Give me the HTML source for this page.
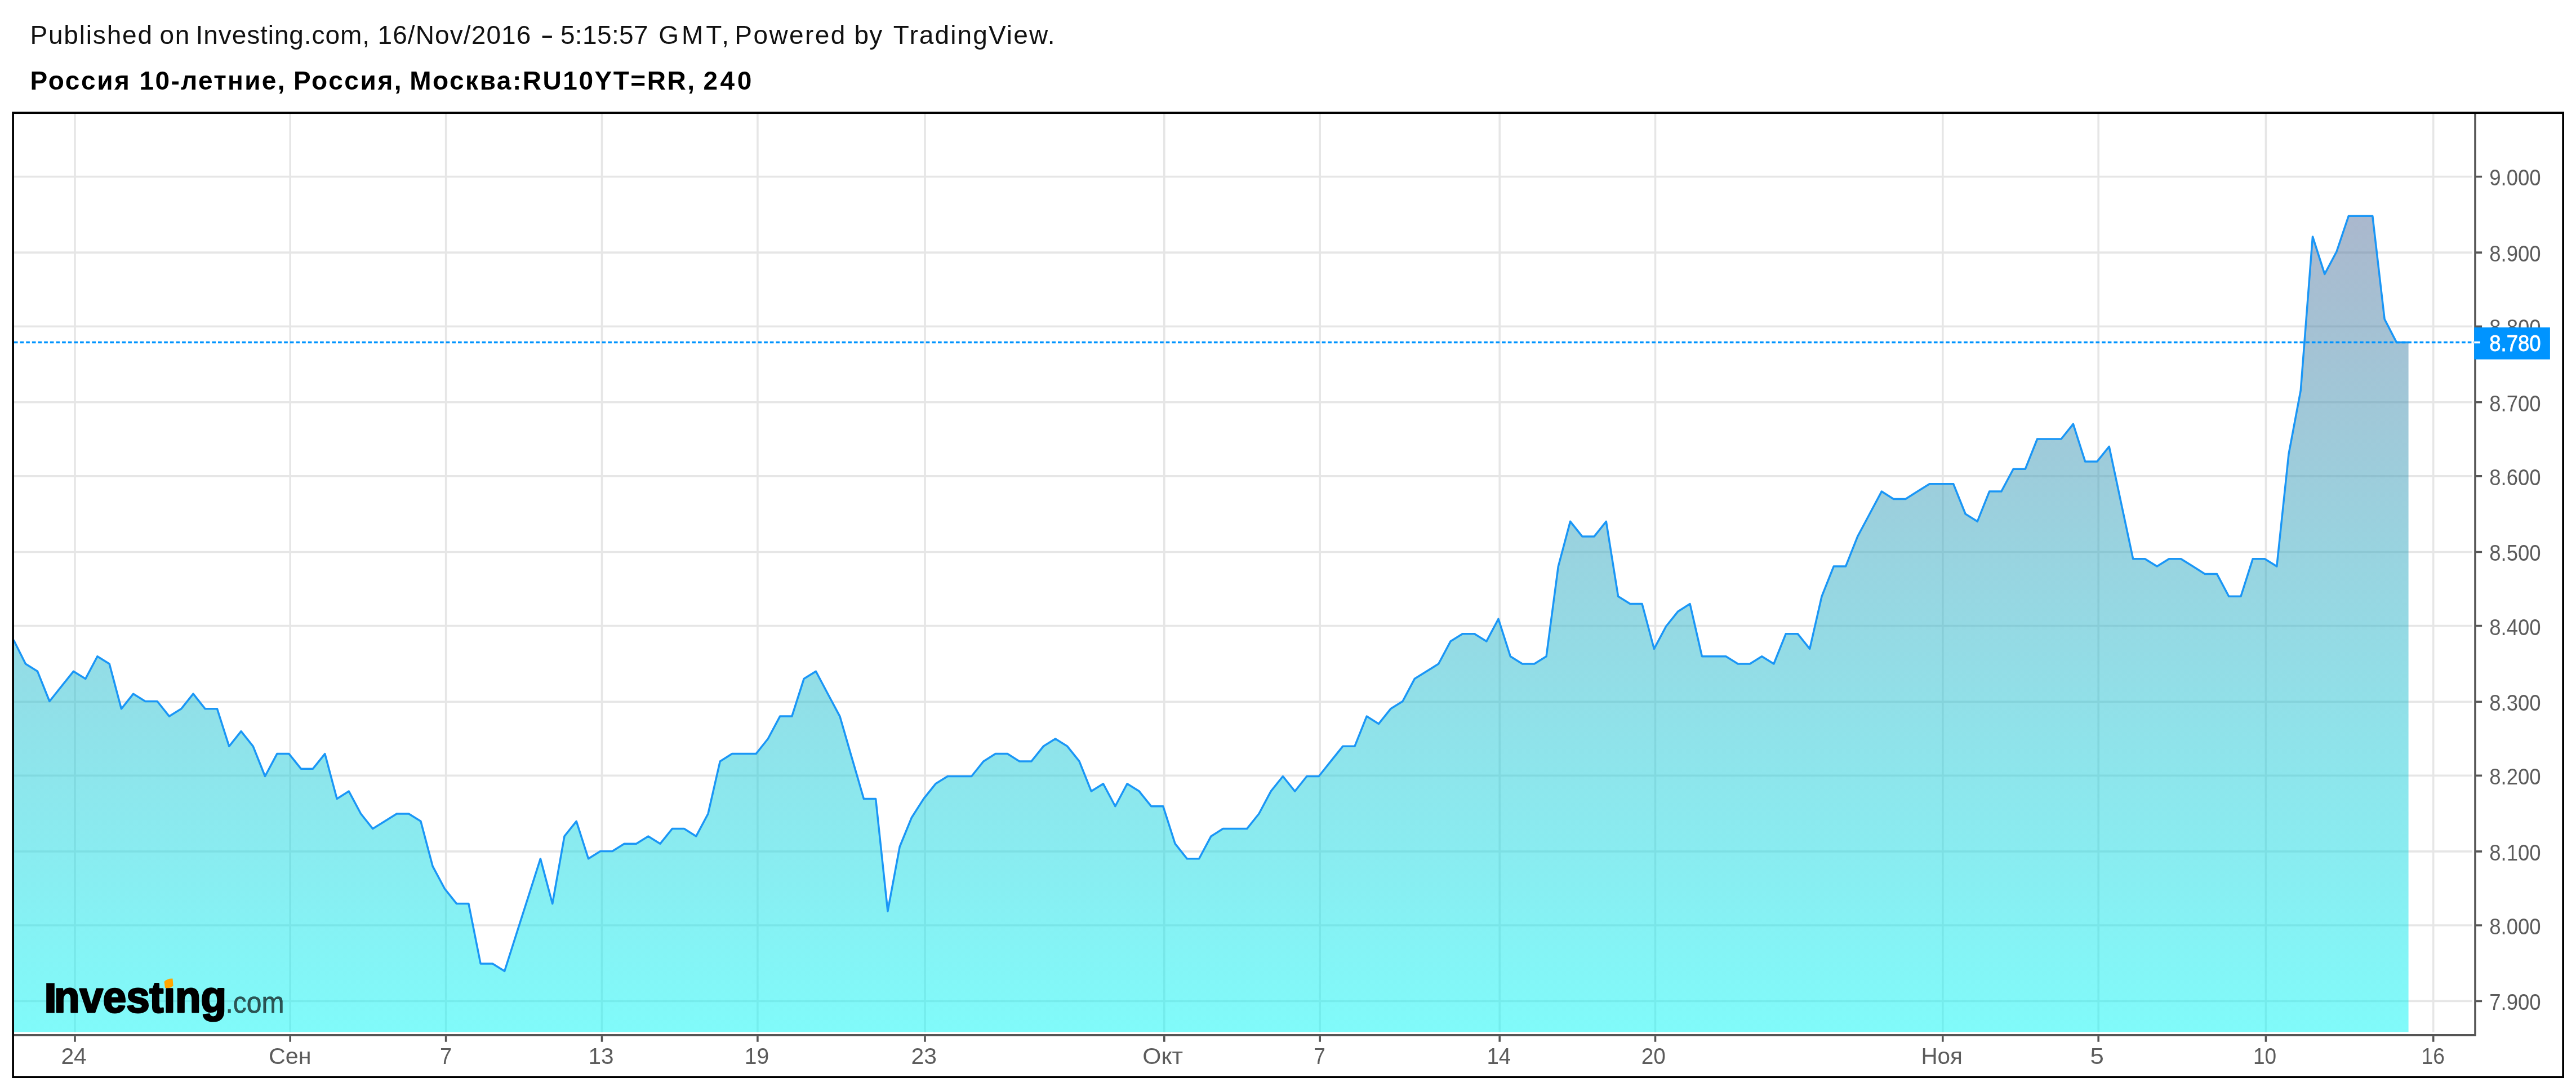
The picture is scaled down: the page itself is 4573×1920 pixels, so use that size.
<!DOCTYPE html>
<html lang="ru"><head><meta charset="utf-8"><title>RU10YT=RR</title>
<style>
html,body{margin:0;padding:0;background:#fff;}
body{width:4573px;height:1920px;overflow:hidden;}
svg{display:block;font-family:"Liberation Sans",sans-serif;filter:blur(0.6px);}
</style></head><body>
<svg width="4573" height="1920" viewBox="0 0 4573 1920">
<defs><linearGradient id="g" gradientUnits="userSpaceOnUse" x1="0" y1="202.0" x2="0" y2="1831.2"><stop offset="0" stop-color="#606090" stop-opacity="0.5"/><stop offset="1" stop-color="#01F6F5" stop-opacity="0.5"/></linearGradient></defs>
<rect width="4573" height="1920" fill="#fff"/>
<text x="53.42" y="77.8" font-size="46.0" fill="#111" textLength="216.65" lengthAdjust="spacing">Published</text>
<text x="283.50" y="77.8" font-size="46.0" fill="#111" textLength="52.76" lengthAdjust="spacing">on</text>
<text x="347.60" y="77.8" font-size="46.0" fill="#111" textLength="308.34" lengthAdjust="spacing">Investing.com,</text>
<text x="670.49" y="77.8" font-size="46.0" fill="#111" textLength="271.86" lengthAdjust="spacing">16/Nov/2016</text>
<text x="959.42" y="77.8" font-size="46.0" fill="#111" textLength="23.54" lengthAdjust="spacingAndGlyphs">-</text>
<text x="994.91" y="77.8" font-size="46.0" fill="#111" textLength="155.69" lengthAdjust="spacing">5:15:57</text>
<text x="1169.13" y="77.8" font-size="46.0" fill="#111" textLength="124.99" lengthAdjust="spacing">GMT,</text>
<text x="1304.32" y="77.8" font-size="46.0" fill="#111" textLength="196.03" lengthAdjust="spacing">Powered</text>
<text x="1516.58" y="77.8" font-size="46.0" fill="#111" textLength="49.59" lengthAdjust="spacing">by</text>
<text x="1585.87" y="77.8" font-size="46.0" fill="#111" textLength="286.60" lengthAdjust="spacing">TradingView.</text>
<text x="53.55" y="158.9" font-size="46.0" font-weight="bold" fill="#000" textLength="176.37" lengthAdjust="spacing">Россия</text>
<text x="247.59" y="158.9" font-size="46.0" font-weight="bold" fill="#000" textLength="257.86" lengthAdjust="spacing">10-летние,</text>
<text x="520.94" y="158.9" font-size="46.0" font-weight="bold" fill="#000" textLength="191.65" lengthAdjust="spacing">Россия,</text>
<text x="727.16" y="158.9" font-size="46.0" font-weight="bold" fill="#000" textLength="505.84" lengthAdjust="spacing">Москва:RU10YT=RR,</text>
<text x="1248.52" y="158.9" font-size="46.0" font-weight="bold" fill="#000" textLength="85.74" lengthAdjust="spacing">240</text>
<path d="M133.00 202.0V1831.5M515.20 202.0V1831.5M791.60 202.0V1831.5M1068.50 202.0V1831.5M1344.90 202.0V1831.5M1642.00 202.0V1831.5M2066.80 202.0V1831.5M2343.20 202.0V1831.5M2662.20 202.0V1831.5M2938.50 202.0V1831.5M3448.80 202.0V1831.5M3725.20 202.0V1831.5M4022.40 202.0V1831.5M4319.70 202.0V1831.5M24.9 313.51H4388.9M24.9 448.12H4388.9M24.9 579.19H4388.9M24.9 713.80H4388.9M24.9 844.87H4388.9M24.9 979.48H4388.9M24.9 1110.55H4388.9M24.9 1245.17H4388.9M24.9 1376.24H4388.9M24.9 1510.85H4388.9M24.9 1641.92H4388.9M24.9 1776.53H4388.9" stroke="#e6e6e6" stroke-width="3.55" fill="none"/>
<polygon points="24.9,1831.2 24.9,1135.5 24.1,1135.5 45.4,1178.0 66.6,1191.3 87.9,1244.5 109.1,1217.9 130.4,1191.3 151.7,1204.6 172.9,1164.7 194.2,1178.0 215.4,1257.8 236.7,1231.2 257.9,1244.5 279.2,1244.5 300.5,1271.1 321.7,1257.8 343.0,1231.2 364.2,1257.8 385.5,1257.8 406.7,1324.3 428.0,1297.7 449.3,1324.3 470.5,1377.5 491.8,1337.6 513.0,1337.6 534.3,1364.2 555.5,1364.2 576.8,1337.6 598.1,1417.4 619.3,1404.1 640.6,1444.0 661.8,1470.6 683.1,1457.3 704.3,1444.0 725.6,1444.0 746.9,1457.3 768.1,1537.1 789.4,1577.0 810.6,1603.6 831.9,1603.6 853.1,1710.0 874.4,1710.0 895.7,1723.3 916.9,1656.8 938.2,1590.3 959.4,1523.8 980.7,1603.6 1002.0,1483.9 1023.2,1457.3 1044.5,1523.8 1065.7,1510.5 1087.0,1510.5 1108.2,1497.2 1129.5,1497.2 1150.8,1483.9 1172.0,1497.2 1193.3,1470.6 1214.5,1470.6 1235.8,1483.9 1257.0,1444.0 1278.3,1350.9 1299.6,1337.6 1320.8,1337.6 1342.1,1337.6 1363.3,1311.0 1384.6,1271.1 1405.8,1271.1 1427.1,1204.6 1448.4,1191.3 1469.6,1231.2 1490.9,1271.1 1512.1,1344.3 1533.4,1417.4 1554.6,1417.4 1575.9,1616.9 1597.2,1502.5 1618.4,1450.7 1639.7,1417.4 1660.9,1390.8 1682.2,1377.5 1703.4,1377.5 1724.7,1377.5 1746.0,1350.9 1767.2,1337.6 1788.5,1337.6 1809.7,1350.9 1831.0,1350.9 1852.2,1324.3 1873.5,1311.0 1894.8,1324.3 1916.0,1350.9 1937.3,1404.1 1958.5,1390.8 1979.8,1430.7 2001.0,1390.8 2022.3,1404.1 2043.6,1430.7 2064.8,1430.7 2086.1,1497.2 2107.3,1523.8 2128.6,1523.8 2149.9,1483.9 2171.1,1470.6 2192.4,1470.6 2213.6,1470.6 2234.9,1444.0 2256.1,1404.1 2277.4,1377.5 2298.7,1404.1 2319.9,1377.5 2341.2,1377.5 2362.4,1350.9 2383.7,1324.3 2404.9,1324.3 2426.2,1271.1 2447.5,1284.4 2468.7,1257.8 2490.0,1244.5 2511.2,1204.6 2532.5,1191.3 2553.7,1178.0 2575.0,1138.1 2596.3,1124.8 2617.5,1124.8 2638.8,1138.1 2660.0,1098.2 2681.3,1164.7 2702.5,1178.0 2723.8,1178.0 2745.1,1164.7 2766.3,1005.1 2787.6,925.3 2808.8,951.9 2830.1,951.9 2851.3,925.3 2872.6,1058.3 2893.9,1071.6 2915.1,1071.6 2936.4,1151.4 2957.6,1111.5 2978.9,1084.9 3000.1,1071.6 3021.4,1164.7 3042.7,1164.7 3063.9,1164.7 3085.2,1178.0 3106.4,1178.0 3127.7,1164.7 3148.9,1178.0 3170.2,1124.8 3191.5,1124.8 3212.7,1151.4 3234.0,1058.3 3255.2,1005.1 3276.5,1005.1 3297.7,951.9 3319.0,912.0 3340.3,872.1 3361.5,885.4 3382.8,885.4 3404.0,872.1 3425.3,858.8 3446.6,858.8 3467.8,858.8 3489.1,912.0 3510.3,925.3 3531.6,872.1 3552.8,872.1 3574.1,832.2 3595.4,832.2 3616.6,779.0 3637.9,779.0 3659.1,779.0 3680.4,752.4 3701.6,818.9 3722.9,818.9 3744.2,792.3 3765.4,892.1 3786.7,991.8 3807.9,991.8 3829.2,1005.1 3850.4,991.8 3871.7,991.8 3893.0,1005.1 3914.2,1018.4 3935.5,1018.4 3956.7,1058.3 3978.0,1058.3 3999.2,991.8 4020.5,991.8 4041.8,1005.1 4063.0,805.6 4084.3,692.6 4105.5,419.9 4126.8,486.4 4148.0,446.5 4169.3,383.3 4190.6,383.3 4211.8,383.3 4233.1,566.2 4254.3,607.4 4275.6,607.4 4275.6,1831.2" fill="url(#g)"/>
<polyline points="24.1,1135.5 45.4,1178.0 66.6,1191.3 87.9,1244.5 109.1,1217.9 130.4,1191.3 151.7,1204.6 172.9,1164.7 194.2,1178.0 215.4,1257.8 236.7,1231.2 257.9,1244.5 279.2,1244.5 300.5,1271.1 321.7,1257.8 343.0,1231.2 364.2,1257.8 385.5,1257.8 406.7,1324.3 428.0,1297.7 449.3,1324.3 470.5,1377.5 491.8,1337.6 513.0,1337.6 534.3,1364.2 555.5,1364.2 576.8,1337.6 598.1,1417.4 619.3,1404.1 640.6,1444.0 661.8,1470.6 683.1,1457.3 704.3,1444.0 725.6,1444.0 746.9,1457.3 768.1,1537.1 789.4,1577.0 810.6,1603.6 831.9,1603.6 853.1,1710.0 874.4,1710.0 895.7,1723.3 916.9,1656.8 938.2,1590.3 959.4,1523.8 980.7,1603.6 1002.0,1483.9 1023.2,1457.3 1044.5,1523.8 1065.7,1510.5 1087.0,1510.5 1108.2,1497.2 1129.5,1497.2 1150.8,1483.9 1172.0,1497.2 1193.3,1470.6 1214.5,1470.6 1235.8,1483.9 1257.0,1444.0 1278.3,1350.9 1299.6,1337.6 1320.8,1337.6 1342.1,1337.6 1363.3,1311.0 1384.6,1271.1 1405.8,1271.1 1427.1,1204.6 1448.4,1191.3 1469.6,1231.2 1490.9,1271.1 1512.1,1344.3 1533.4,1417.4 1554.6,1417.4 1575.9,1616.9 1597.2,1502.5 1618.4,1450.7 1639.7,1417.4 1660.9,1390.8 1682.2,1377.5 1703.4,1377.5 1724.7,1377.5 1746.0,1350.9 1767.2,1337.6 1788.5,1337.6 1809.7,1350.9 1831.0,1350.9 1852.2,1324.3 1873.5,1311.0 1894.8,1324.3 1916.0,1350.9 1937.3,1404.1 1958.5,1390.8 1979.8,1430.7 2001.0,1390.8 2022.3,1404.1 2043.6,1430.7 2064.8,1430.7 2086.1,1497.2 2107.3,1523.8 2128.6,1523.8 2149.9,1483.9 2171.1,1470.6 2192.4,1470.6 2213.6,1470.6 2234.9,1444.0 2256.1,1404.1 2277.4,1377.5 2298.7,1404.1 2319.9,1377.5 2341.2,1377.5 2362.4,1350.9 2383.7,1324.3 2404.9,1324.3 2426.2,1271.1 2447.5,1284.4 2468.7,1257.8 2490.0,1244.5 2511.2,1204.6 2532.5,1191.3 2553.7,1178.0 2575.0,1138.1 2596.3,1124.8 2617.5,1124.8 2638.8,1138.1 2660.0,1098.2 2681.3,1164.7 2702.5,1178.0 2723.8,1178.0 2745.1,1164.7 2766.3,1005.1 2787.6,925.3 2808.8,951.9 2830.1,951.9 2851.3,925.3 2872.6,1058.3 2893.9,1071.6 2915.1,1071.6 2936.4,1151.4 2957.6,1111.5 2978.9,1084.9 3000.1,1071.6 3021.4,1164.7 3042.7,1164.7 3063.9,1164.7 3085.2,1178.0 3106.4,1178.0 3127.7,1164.7 3148.9,1178.0 3170.2,1124.8 3191.5,1124.8 3212.7,1151.4 3234.0,1058.3 3255.2,1005.1 3276.5,1005.1 3297.7,951.9 3319.0,912.0 3340.3,872.1 3361.5,885.4 3382.8,885.4 3404.0,872.1 3425.3,858.8 3446.6,858.8 3467.8,858.8 3489.1,912.0 3510.3,925.3 3531.6,872.1 3552.8,872.1 3574.1,832.2 3595.4,832.2 3616.6,779.0 3637.9,779.0 3659.1,779.0 3680.4,752.4 3701.6,818.9 3722.9,818.9 3744.2,792.3 3765.4,892.1 3786.7,991.8 3807.9,991.8 3829.2,1005.1 3850.4,991.8 3871.7,991.8 3893.0,1005.1 3914.2,1018.4 3935.5,1018.4 3956.7,1058.3 3978.0,1058.3 3999.2,991.8 4020.5,991.8 4041.8,1005.1 4063.0,805.6 4084.3,692.6 4105.5,419.9 4126.8,486.4 4148.0,446.5 4169.3,383.3 4190.6,383.3 4211.8,383.3 4233.1,566.2 4254.3,607.4 4275.6,607.4" fill="none" stroke="#1a96f6" stroke-width="3.5" stroke-linejoin="round"/>
<g id="logo">
<text x="78.5" y="1795.5" font-size="73" font-weight="bold" fill="#000" stroke="#000" stroke-width="3" textLength="22" lengthAdjust="spacingAndGlyphs">I</text>
<text x="96" y="1795.5" font-size="77" font-weight="bold" fill="#000" stroke="#000" stroke-width="3" stroke-linejoin="round" textLength="306" lengthAdjust="spacingAndGlyphs">nvestıng</text>
<path d="M293 1753 L291.5 1742 Q297 1736 306.5 1736.5 L307.5 1749 Q303 1754.5 293 1753Z" fill="#FFA500"/>
<text x="400.5" y="1796.8" font-size="54" fill="#000" fill-opacity="0.66" stroke="#000" stroke-opacity="0.66" stroke-width="0.6" textLength="104" lengthAdjust="spacingAndGlyphs">.com</text>
</g>
<path d="M24.9 607.5H4392.2" stroke="#0094FF" stroke-width="3.55" stroke-dasharray="6.7 3.95" fill="none"/>
<path d="M24.9 1836.80H4395.8 M4394.00 202.0V1838.6" stroke="#555" stroke-width="3.55" fill="none"/>
<path d="M133.00 1838.4v10.4M515.20 1838.4v10.4M791.60 1838.4v10.4M1068.50 1838.4v10.4M1344.90 1838.4v10.4M1642.00 1838.4v10.4M2066.80 1838.4v10.4M2343.20 1838.4v10.4M2662.20 1838.4v10.4M2938.50 1838.4v10.4M3448.80 1838.4v10.4M3725.20 1838.4v10.4M4022.40 1838.4v10.4M4319.70 1838.4v10.4M4395.6 313.51h10.5M4395.6 448.12h10.5M4395.6 579.19h10.5M4395.6 713.80h10.5M4395.6 844.87h10.5M4395.6 979.48h10.5M4395.6 1110.55h10.5M4395.6 1245.17h10.5M4395.6 1376.24h10.5M4395.6 1510.85h10.5M4395.6 1641.92h10.5M4395.6 1776.53h10.5" stroke="#555" stroke-width="3.55" fill="none"/>
<text x="108.39" y="1887.9" font-size="41.0" fill="#5c5c5c" textLength="45.46" lengthAdjust="spacingAndGlyphs">24</text>
<text x="476.99" y="1887.9" font-size="41.0" fill="#5c5c5c" textLength="75.61" lengthAdjust="spacingAndGlyphs">Сен</text>
<text x="780.95" y="1887.9" font-size="41.0" fill="#5c5c5c" textLength="21.16" lengthAdjust="spacingAndGlyphs">7</text>
<text x="1044.51" y="1887.9" font-size="41.0" fill="#5c5c5c" textLength="45.08" lengthAdjust="spacingAndGlyphs">13</text>
<text x="1321.84" y="1887.9" font-size="41.0" fill="#5c5c5c" textLength="43.44" lengthAdjust="spacingAndGlyphs">19</text>
<text x="1617.53" y="1887.9" font-size="41.0" fill="#5c5c5c" textLength="45.49" lengthAdjust="spacingAndGlyphs">23</text>
<text x="2028.28" y="1887.9" font-size="41.0" fill="#5c5c5c" textLength="71.80" lengthAdjust="spacingAndGlyphs">Окт</text>
<text x="2332.29" y="1887.9" font-size="41.0" fill="#5c5c5c" textLength="20.65" lengthAdjust="spacingAndGlyphs">7</text>
<text x="2639.47" y="1887.9" font-size="41.0" fill="#5c5c5c" textLength="42.74" lengthAdjust="spacingAndGlyphs">14</text>
<text x="2913.69" y="1887.9" font-size="41.0" fill="#5c5c5c" textLength="43.21" lengthAdjust="spacingAndGlyphs">20</text>
<text x="3410.43" y="1887.9" font-size="41.0" fill="#5c5c5c" textLength="73.47" lengthAdjust="spacingAndGlyphs">Ноя</text>
<text x="3710.49" y="1887.9" font-size="41.0" fill="#5c5c5c" textLength="24.37" lengthAdjust="spacingAndGlyphs">5</text>
<text x="3999.95" y="1887.9" font-size="41.0" fill="#5c5c5c" textLength="41.17" lengthAdjust="spacingAndGlyphs">10</text>
<text x="4298.57" y="1887.9" font-size="41.0" fill="#5c5c5c" textLength="41.37" lengthAdjust="spacingAndGlyphs">16</text>
<text x="4419.18" y="329.4" font-size="41.0" fill="#5c5c5c" textLength="91.50" lengthAdjust="spacingAndGlyphs">9.000</text>
<text x="4419.25" y="464.0" font-size="41.0" fill="#5c5c5c" textLength="91.42" lengthAdjust="spacingAndGlyphs">8.900</text>
<text x="4419.25" y="595.1" font-size="41.0" fill="#5c5c5c" textLength="91.42" lengthAdjust="spacingAndGlyphs">8.800</text>
<text x="4419.25" y="729.7" font-size="41.0" fill="#5c5c5c" textLength="91.42" lengthAdjust="spacingAndGlyphs">8.700</text>
<text x="4419.25" y="860.8" font-size="41.0" fill="#5c5c5c" textLength="91.42" lengthAdjust="spacingAndGlyphs">8.600</text>
<text x="4419.25" y="995.4" font-size="41.0" fill="#5c5c5c" textLength="91.42" lengthAdjust="spacingAndGlyphs">8.500</text>
<text x="4419.25" y="1126.5" font-size="41.0" fill="#5c5c5c" textLength="91.42" lengthAdjust="spacingAndGlyphs">8.400</text>
<text x="4419.25" y="1261.1" font-size="41.0" fill="#5c5c5c" textLength="91.42" lengthAdjust="spacingAndGlyphs">8.300</text>
<text x="4419.25" y="1392.1" font-size="41.0" fill="#5c5c5c" textLength="91.42" lengthAdjust="spacingAndGlyphs">8.200</text>
<text x="4419.25" y="1526.7" font-size="41.0" fill="#5c5c5c" textLength="91.42" lengthAdjust="spacingAndGlyphs">8.100</text>
<text x="4419.25" y="1657.8" font-size="41.0" fill="#5c5c5c" textLength="91.42" lengthAdjust="spacingAndGlyphs">8.000</text>
<text x="4419.18" y="1792.4" font-size="41.0" fill="#5c5c5c" textLength="91.50" lengthAdjust="spacingAndGlyphs">7.900</text>
<rect x="4392.2" y="581.0" width="134.7" height="56.7" fill="#0094FF"/>
<rect x="4392.2" y="605.8" width="10.7" height="3.55" fill="#fff"/>
<text x="4419.24" y="623.0" font-size="41.0" fill="#fff" stroke="#fff" stroke-width="0.8" textLength="91.40" lengthAdjust="spacingAndGlyphs">8.780</text>
<rect x="23.07" y="200.18" width="4527.05" height="1710.95" fill="none" stroke="#000" stroke-width="3.75"/>
</svg></body></html>
